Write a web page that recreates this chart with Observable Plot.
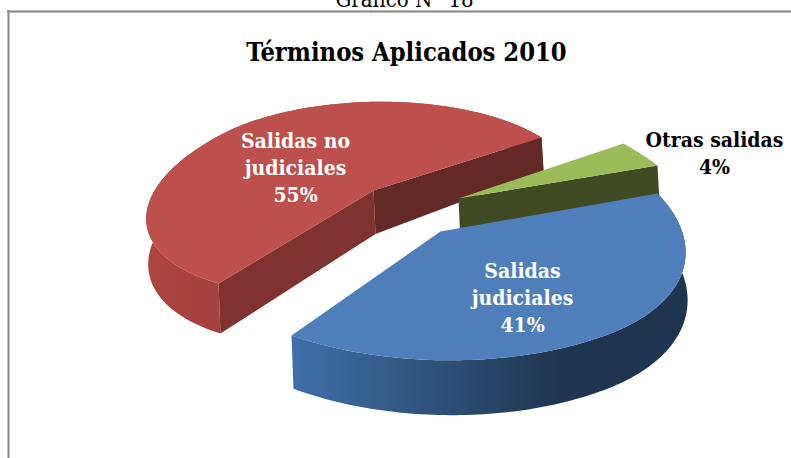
<!DOCTYPE html>
<html><head><meta charset="utf-8">
<script src="https://cdn.jsdelivr.net/npm/d3@7"></script>
<script src="https://cdn.jsdelivr.net/npm/@observablehq/plot@0.6"></script>
<style>html,body{margin:0;padding:0;background:#fff;overflow:hidden}svg{display:block}</style>
</head><body><div id="chart"></div>
<script>
// Data
const categories = ["Salidas no judiciales", "Otras salidas", "Salidas judiciales"];
const shares = [55, 4, 41];
const labelLines = [["Salidas no", "judiciales", "55%"], ["Otras salidas", "4%"], ["Salidas", "judiciales", "41%"]];
const chartTitle = "Términos Aplicados 2010";
const pageCaption = "Gráfico N° 18";

// Perspective frame of each exploded slice (apex and radial vectors at start, middle, end of the arc)
const frames = [
  {apex: [373, 190], radii: [[-155, 93], [-140, -62], [168, -53]]},
  {apex: [458, 198], radii: [[165, -55], [183, -44], [199, -33]]},
  {apex: [440, 231], radii: [[217, -38], [170, 102], [-149, 104]]}
];
const depth = d3.scaleLinear([137, 193, 283, 362], [33, 44, 50, 55]);

function arcPoints(i) {
  const sweep = shares[i] / 100 * 2 * Math.PI / 2; // each half of the arc
  const {apex, radii} = frames[i];
  const n = 60, pts = [];
  for (const seg of [0, 1]) {
    for (let k = 0; k <= n; k++) {
      const phi = sweep * k / n;
      const a = Math.sin(sweep - phi) / Math.sin(sweep), b = Math.sin(phi) / Math.sin(sweep);
      pts.push([apex[0] + a * radii[seg][0] + b * radii[seg + 1][0],
                apex[1] + a * radii[seg][1] + b * radii[seg + 1][1]]);
    }
  }
  return pts;
}
const drop = ([x, y]) => [x + 2, y + depth(y)];
const arcs = shares.map((_, i) => arcPoints(i));
const topFace = i => [frames[i].apex, ...arcs[i]];
const outerWall = i => [...arcs[i], ...arcs[i].map(drop).reverse()];
const radialWall = (i, end) => {
  const c = frames[i].apex, e = end ? arcs[i][arcs[i].length - 1] : arcs[i][0];
  return [c, e, drop(e), drop(c)];
};
const poly = (pts, fill) => Plot.line(pts, {x: d => d[0], y: d => d[1], fill, stroke: "none", curve: "linear-closed"});

const defs = () => {
  const d = d3.create("svg:defs");
  const g = d.append("linearGradient").attr("id", "blueWall")
    .attr("gradientUnits", "userSpaceOnUse").attr("x1", 291).attr("x2", 560).attr("y1", 0).attr("y2", 0);
  g.append("stop").attr("offset", 0).attr("stop-color", "#3f6fa8");
  g.append("stop").attr("offset", 0.5).attr("stop-color", "#30537c");
  g.append("stop").attr("offset", 1).attr("stop-color", "#1f344f");
  const r = d.append("linearGradient").attr("id", "redWall")
    .attr("gradientUnits", "userSpaceOnUse").attr("x1", 146).attr("x2", 230).attr("y1", 0).attr("y2", 0);
  r.append("stop").attr("offset", 0).attr("stop-color", "#ab4542");
  r.append("stop").attr("offset", 1).attr("stop-color", "#a33f3d");
  return d.node();
};

const labelRows = (i, cx, y0, step) => labelLines[i].map((t, k) => ({t, x: cx, y: y0 + k * step}));
const serif = "'DejaVu Serif Condensed','DejaVu Serif',serif";

const plot = Plot.plot({
  width: 791, height: 458, margin: 0,
  x: {domain: [0, 791], range: [0, 791], axis: null},
  y: {domain: [0, 458], range: [0, 458], axis: null},
  marks: [
    defs,
    // frame
    Plot.ruleY([11], {x1: 7, x2: 791, stroke: "#868686", strokeWidth: 2}),
    Plot.ruleX([8], {y1: 10, y2: 458, stroke: "#868686", strokeWidth: 2}),
    // red slice
    poly(outerWall(0), "url(#redWall)"),
    poly(radialWall(0, true), "#622927"),
    poly(radialWall(0, false), "#7f3230"),
    poly(topFace(0), "#bd4f4c"),
    // green slice
    poly(radialWall(1, true), "#3f4a22"),
    poly(topFace(1), "#9bbb59"),
    // blue slice
    poly(outerWall(2), "url(#blueWall)"),
    poly(topFace(2), "#4f7fbb"),
    // text
    Plot.text([pageCaption], {x: 404, y: 6, text: d => d, fontSize: 22, fill: "#000", fontFamily: serif, textAnchor: "middle", lineAnchor: "bottom"}),
    Plot.text([chartTitle], {x: 406, y: 52, text: d => d, fontSize: 25.3, fontWeight: "bold", fill: "#000", fontFamily: serif, textAnchor: "middle"}),
    Plot.text(labelRows(0, 295, 141, 27), {x: "x", y: "y", text: "t", fontSize: 21, fontWeight: "bold", fill: "#fff", fontFamily: serif}),
    Plot.text(labelRows(1, 714, 140, 27), {x: "x", y: "y", text: "t", fontSize: 21, fontWeight: "bold", fill: "#000", fontFamily: serif}),
    Plot.text(labelRows(2, 522, 271, 27), {x: "x", y: "y", text: "t", fontSize: 21, fontWeight: "bold", fill: "#fff", fontFamily: serif})
  ]
});
plot.setAttribute("aria-label", categories.join(", "));
document.getElementById("chart").append(plot);
</script></body></html>
